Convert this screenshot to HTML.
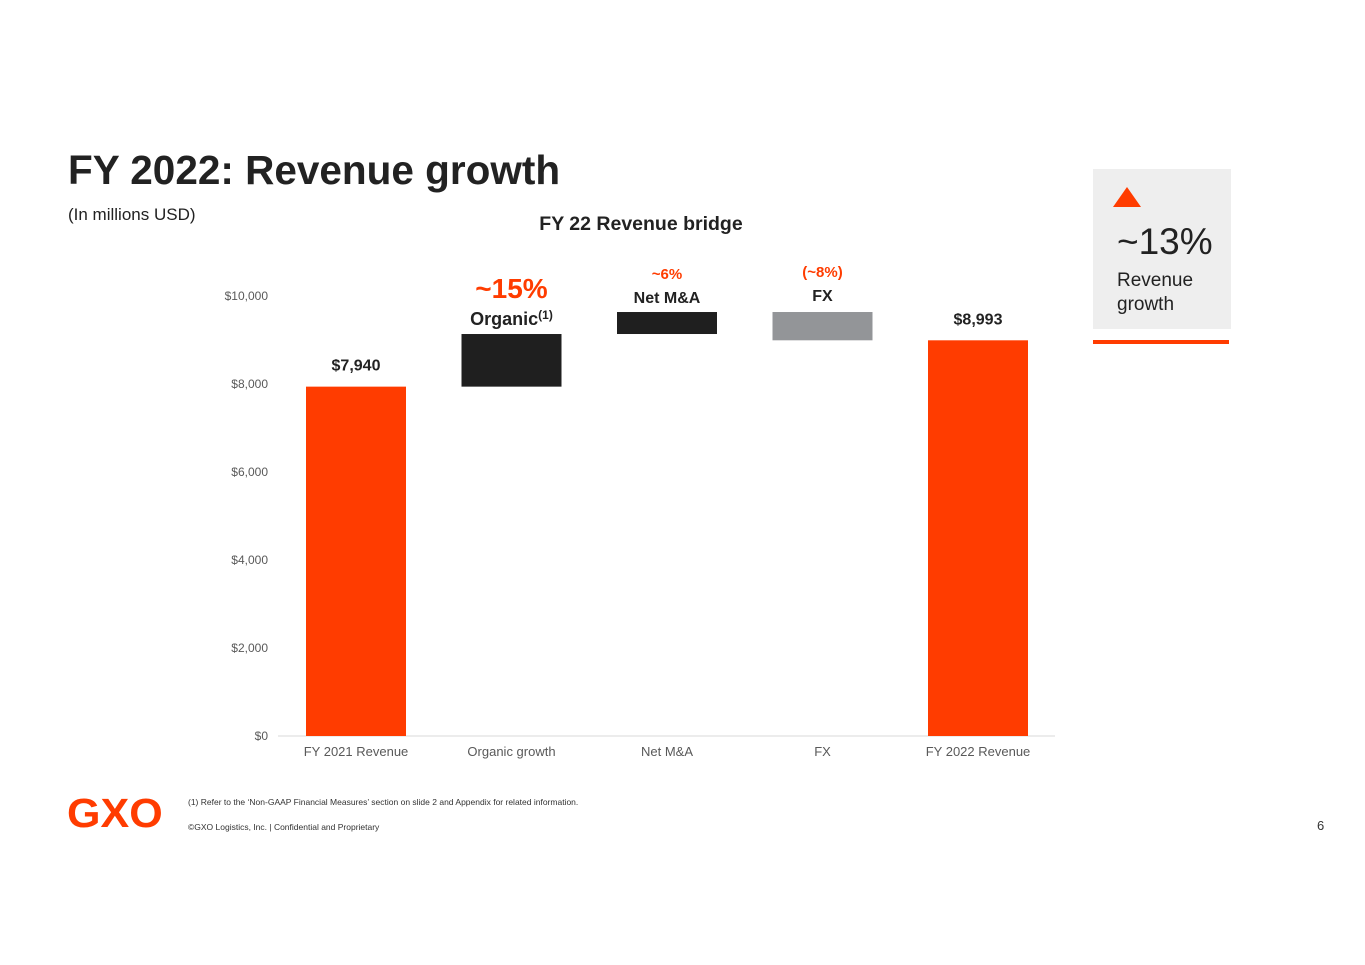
<!DOCTYPE html>
<html><head><meta charset="utf-8"><style>
body{margin:0;width:1365px;height:965px;background:#fff;font-family:"Liberation Sans",sans-serif;position:relative;overflow:hidden}
.a{position:absolute}
</style></head><body>
<div class="a" style="left:68px;top:147px;font-size:40.5px;font-weight:bold;color:#222">FY 2022: Revenue growth</div>
<div class="a" style="left:68px;top:205px;font-size:17px;color:#222">(In millions USD)</div>
<div class="a" style="left:1093px;top:169px;width:138px;height:160px;background:#eeeeee">
 <div style="position:absolute;left:20px;top:18px;width:0;height:0;border-left:14px solid transparent;border-right:14px solid transparent;border-bottom:20px solid #ff3c00"></div>
 <div style="position:absolute;left:24px;top:52px;font-size:37px;color:#222">~13%</div>
 <div style="position:absolute;left:24px;top:100px;font-size:19px;color:#222;line-height:24px">Revenue<br>growth</div>
</div>
<div class="a" style="left:1093px;top:340px;width:136px;height:4px;background:#ff3c00"></div>
<svg class="a" style="left:0;top:0" width="1365" height="965" id="chart"></svg>
<div class="a" style="left:67px;top:790px;font-size:41px;font-weight:900;color:#ff3c00;letter-spacing:0px;transform:scaleX(1.05);transform-origin:left">GXO</div>
<div class="a" style="left:188px;top:797px;font-size:8.5px;color:#333">(1) Refer to the ‘Non-GAAP Financial Measures’ section on slide 2 and Appendix for related information.</div>
<div class="a" style="left:188px;top:822px;font-size:8.5px;color:#333">©GXO Logistics, Inc. | Confidential and Proprietary</div>
<div class="a" style="left:1317px;top:818px;font-size:13px;color:#333">6</div>
<script>
const categories=["FY 2021 Revenue","Organic growth","Net M&A","FX","FY 2022 Revenue"];
const starts=[0,7940,9136,9636,0];
const ends=[7940,9136,9636,8993,8993];
const colors=["#ff3c00","#1f1f1f","#1f1f1f","#939598","#ff3c00"];
const ticks=[0,2000,4000,6000,8000,10000];
const tickLabels=["$0","$2,000","$4,000","$6,000","$8,000","$10,000"];
const ns="http://www.w3.org/2000/svg",svg=document.getElementById('chart');
const y=v=>736-v*0.044, xc=i=>356+i*155.5;
function el(t,a,txt){const e=document.createElementNS(ns,t);for(const k in a)e.setAttribute(k,a[k]);if(txt!=null)e.textContent=txt;svg.appendChild(e);return e;}
let e=el('text',{x:641,y:230,'text-anchor':'middle','font-size':19.5,'font-weight':'bold',fill:'#222','font-family':'Liberation Sans'},'FY 22 Revenue bridge');

e=el('line',{x1:278,x2:1055,y1:y(0),y2:y(0),stroke:'#d9d9d9'});

ticks.forEach((t,i)=>{const l=el('text',{x:268,y:y(t)+4,'text-anchor':'end','font-size':12,fill:'#595959','font-family':'Liberation Sans'},tickLabels[i]);
});
categories.forEach((c,i)=>{
 const lo=Math.min(starts[i],ends[i]),hi=Math.max(starts[i],ends[i]);
 const r=el('rect',{x:xc(i)-50,y:y(hi),width:100,height:y(lo)-y(hi),fill:colors[i]});
 
 const l=el('text',{x:xc(i),y:756,'text-anchor':'middle','font-size':13,fill:'#595959','font-family':'Liberation Sans'},c);
 
});
function lab(x,yy,s,size,col,name){const t=el('text',{x:x,y:yy,'text-anchor':'middle','font-size':size,'font-weight':'bold',fill:col,'font-family':'Liberation Sans'},s);return t;}
lab(xc(0),y(ends[0])-16,'$7,940',16,'#222','label-fy2021');
lab(xc(4),y(ends[4])-16,'$8,993',16,'#222','label-fy2022');
lab(xc(1),298,'~15%',28,'#ff3c00','label-organic-pct');
const o=lab(xc(1),325,'Organic',18,'#222','label-organic');
const sp=document.createElementNS(ns,'tspan');sp.setAttribute('font-size',12);sp.setAttribute('dy',-6);sp.textContent='(1)';o.appendChild(sp);
lab(xc(2),279,'~6%',15,'#ff3c00','label-ma-pct');
lab(xc(2),303,'Net M&A',16,'#222','label-ma');
lab(xc(3),277,'(~8%)',15,'#ff3c00','label-fx-pct');
lab(xc(3),301,'FX',16,'#222','label-fx');
</script>
</body></html>
